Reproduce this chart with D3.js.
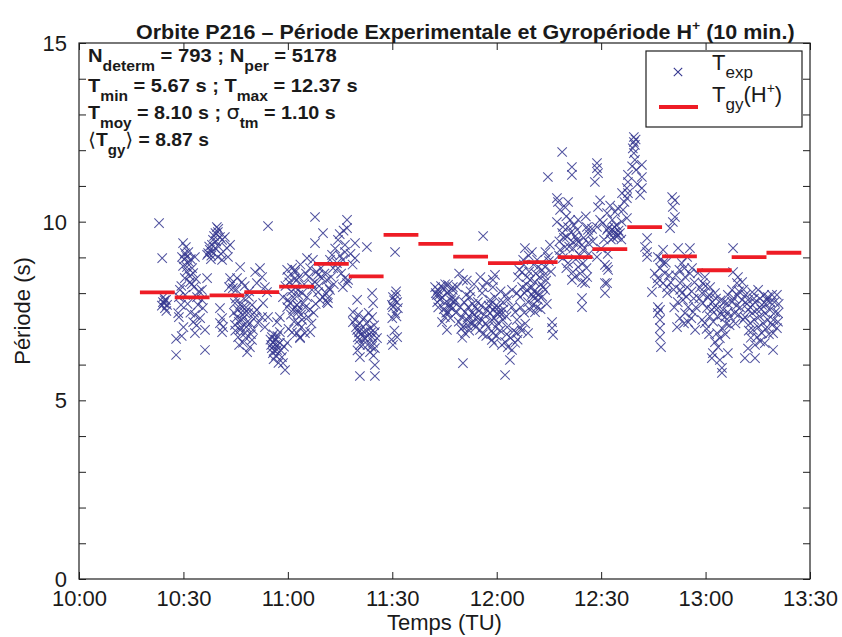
<!DOCTYPE html>
<html><head><meta charset="utf-8">
<script src="https://cdn.jsdelivr.net/npm/d3@7"></script>
<style>
body{margin:0;background:#fff}
text{font-family:"Liberation Sans",Arial,Helvetica,sans-serif;fill:#1a1a1a}
</style>
</head><body>
<svg id="chart" width="842" height="637"></svg>
<script>
// ---------- DATA ----------
// time axis: minutes after 10:00 (TU)
const xTickValues = [0, 30, 60, 90, 120, 150, 180, 210];
const xTickLabels = ["10:00", "10:30", "11:00", "11:30", "12:00", "12:30", "13:00", "13:30"];
const yTickValues = [0,1,2,3,4,5,6,7,8,9,10,11,12,13,14,15];
const yLabelValues = [0, 5, 10, 15];

// 10-minute gyroperiod H+ : start time (min after 10:00) and value (s)
const gyroStart = [17.5, 27.5, 37.5, 47.5, 57.5, 67.5, 77.5, 87.5, 97.5, 107.5, 117.5, 127.5, 137.5, 147.5, 157.5, 167.5, 177.5, 187.5, 197.5];
const gyroPeriod = [8.02, 7.88, 7.94, 8.03, 8.18, 8.82, 8.47, 9.63, 9.38, 9.02, 8.84, 8.87, 9.01, 9.23, 9.85, 9.03, 8.64, 9.01, 9.13];

// experimental periods T_exp : [minutes after 10:00, period (s)]
const texpPoints = [
[23.0,9.96],[23.9,8.98],[24.2,7.89],[25.0,7.81],[24.4,7.72],[25.3,7.67],[24.7,7.58],[24.1,7.75],[24.6,7.80],[25.1,7.50],[23.8,7.65],
[27.9,6.72],[27.9,6.27],[28.5,7.44],[28.7,7.33],[29.3,7.67],[29.0,8.09],[28.7,7.89],
[29.9,9.40],[30.7,9.29],[30.4,9.12],[31.0,9.01],[29.9,8.76],[31.6,8.87],[32.5,8.70],[32.8,8.56],[33.3,9.01],[30.4,8.42],[31.9,8.31],[33.0,8.17],[35.3,8.09],[33.9,7.89],[35.3,7.81],[34.2,7.67],[33.3,7.39],[32.8,7.19],[33.3,6.88],[36.2,6.97],[36.2,6.41],[35.6,7.58],[36.8,8.42],[29.6,9.01],[31.0,8.73],
[30.2,8.95],[30.9,8.60],[31.4,9.15],[32.1,8.95],[31.8,8.48],[32.4,8.25],[33.6,8.40],[34.5,8.05],[29.4,8.20],[30.5,7.95],[31.2,7.70],[32.0,7.45],[34.8,7.30],[33.8,7.10],[30.0,7.05],[29.5,6.80],
[39.6,9.85],[39.9,9.71],[40.5,9.57],[38.5,9.49],[38.2,9.35],[37.6,9.21],[37.1,9.12],[38.2,9.15],[39.1,9.26],[41.1,9.49],[41.9,9.57],[36.8,9.07],[39.9,9.01],[41.1,8.93],[42.8,9.01],[42.5,9.26],[43.4,9.35],
[38.8,9.60],[39.4,9.45],[40.1,9.30],[38.0,9.05],[37.4,9.30],[40.8,9.10],[39.2,9.68],[40.0,9.80],[37.9,8.95],
[40.5,7.58],[41.1,7.30],[40.5,7.16],[41.4,7.05],[41.1,6.91],
[43.4,8.42],[44.0,8.28],[43.1,8.17],[44.2,8.14],
[46.3,8.73],[45.4,8.42],[46.8,8.31],[44.8,7.72],[46.3,7.67],[47.1,7.61],[45.7,7.53],[47.7,7.44],[45.4,7.33],[46.8,7.25],[48.3,7.19],[44.8,7.11],[46.3,6.97],[47.7,6.88],[45.7,6.77],[47.1,6.61],[49.1,6.49],[48.3,6.35],[49.7,6.69],[50.0,6.97],[49.1,7.16],[48.6,7.44],[49.7,7.67],[50.6,7.33],[51.1,7.53],[51.4,7.16],
[44.5,7.45],[45.1,7.85],[45.9,7.20],[46.5,7.05],[47.4,7.85],[48.0,7.60],[48.8,7.90],[47.9,6.75],[46.0,6.55],[46.9,7.40],[48.1,7.05],[49.4,6.85],[50.3,7.45],[44.9,6.95],[45.2,8.10],[47.6,8.20],[48.9,8.05],
[54.3,9.88],
[50.6,8.59],[52.0,8.70],[52.6,8.45],[51.1,8.28],[53.4,8.17],[54.0,8.03],[52.9,7.72],[52.6,7.33],[53.4,7.05],[54.3,7.33],
[55.4,6.77],[55.7,6.63],[56.3,6.55],[55.4,6.46],[56.9,6.41],[55.7,6.32],[57.7,6.61],[58.3,6.21],[58.6,6.04],[59.2,5.85],[57.7,7.33],[56.9,7.19],[59.8,6.61],[57.7,6.91],
[55.0,6.70],[55.9,6.85],[56.5,6.70],[55.2,6.55],[56.1,6.40],[57.1,6.55],[56.6,6.25],[55.9,6.15],[57.3,6.05],[58.0,6.40],[58.9,6.50],[57.0,6.80],
[59.8,8.65],[61.2,8.70],[62.1,8.59],[60.0,8.45],[62.6,8.37],[58.6,7.89],[60.0,7.81],[61.5,7.89],[60.6,7.72],[62.6,7.67],[59.8,7.61],[61.5,7.53],[62.9,7.53],[62.9,7.16],[62.6,6.88],[63.5,6.74],
[60.4,8.30],[61.9,8.40],[61.0,8.05],[62.2,8.15],[63.2,8.45],[59.3,8.20],[60.9,7.40],[61.8,7.20],[60.2,7.00],[61.2,6.90],[63.8,7.40],[63.0,7.95],[64.7,8.25],[65.2,8.55],[63.6,8.80],
[67.8,10.13],[70.1,9.68],[67.8,9.40],[65.5,8.98],[62.1,8.65],[67.2,8.93],[66.4,8.70],[68.7,8.51],[67.8,8.31],[69.8,8.42],[71.2,8.37],[62.9,8.09],[64.1,8.00],[65.5,7.89],[66.9,8.09],[68.7,8.03],[70.1,7.89],[71.5,7.86],[71.2,7.75],[69.2,7.81],[62.6,7.67],[64.4,7.72],[62.9,7.47],[65.8,7.33],[64.1,7.25],[64.9,6.88],[63.5,6.77],[66.4,6.91],
[66.0,8.45],[67.0,8.25],[68.2,8.60],[69.0,8.20],[70.5,8.55],[71.8,8.15],[70.9,8.00],[69.5,8.70],[72.4,8.45],[73.2,8.25],[68.0,7.70],[66.3,7.55],[67.4,7.45],[65.0,7.60],[66.8,7.15],[63.9,7.05],
[72.7,9.07],[72.1,8.93],[74.1,8.84],[74.4,8.70],[73.0,8.70],[74.4,9.49],[76.4,9.35],[77.0,10.05],[77.0,9.82],[76.4,9.15],[75.8,8.93],[79.3,9.40],[82.7,9.29],[79.3,8.98],[76.4,8.42],[77.0,8.28],[75.8,8.17],[77.3,8.37],[72.1,8.09],[71.5,7.72],
[73.6,9.25],[75.0,9.05],[75.3,8.55],[78.0,9.10],[78.6,8.80],[74.9,9.65],[76.0,9.75],
[79.9,7.81],[84.2,8.00],[84.5,7.72],[78.7,7.47],[79.3,7.25],[80.7,7.16],[79.9,6.97],[81.3,6.88],[82.7,7.16],[83.6,7.02],[85.0,6.91],[84.2,6.77],[80.1,6.77],[82.2,6.74],[80.7,6.55],[84.5,6.61],[85.0,6.46],[83.6,6.35],[80.7,6.21],[85.0,5.99],[80.7,5.68],[85.0,5.68],[84.2,7.33],[78.7,7.19],[85.6,6.74],
[79.6,7.05],[80.4,6.90],[81.0,7.00],[81.8,6.75],[82.5,6.95],[83.0,6.80],[83.9,6.90],[84.8,7.10],[80.5,6.70],[81.5,6.55],[82.9,6.55],[84.0,6.50],[80.2,7.40],[81.9,7.30],[83.2,7.45],[80.0,6.40],[84.6,6.25],
[90.8,9.15],[90.2,7.89],[91.4,7.75],[90.2,7.61],[91.6,7.58],[90.8,7.44],[91.4,6.77],[90.2,6.55],[89.9,7.67],
[90.5,7.80],[91.0,7.95],[90.0,7.30],[91.2,7.35],[90.6,6.95],[89.8,6.70],[91.1,8.05],
[102.3,8.17],[103.1,8.09],[104.6,8.14],[106.0,8.23],[107.4,8.17],[102.8,7.95],[104.3,7.89],[105.7,8.00],[107.2,7.89],[105.1,7.72],[106.6,7.67],[107.4,7.58],[106.0,7.47],[105.1,7.33],[104.3,7.19],[105.7,6.97],[103.7,7.81],
[102.5,8.00],[103.5,7.95],[104.0,8.20],[105.2,8.25],[106.3,8.05],[106.9,7.80],[104.8,7.55],[103.2,7.60],[102.9,7.75],[107.8,7.75],[105.5,7.45],[106.7,7.30],
[116.1,9.60],[110.3,6.04],[122.4,5.71],
[107.4,8.09],[108.6,8.17],[110.3,8.37],[106.6,7.61],[108.0,7.81],[109.5,7.61],[110.9,7.47],[110.0,7.33],[111.5,7.25],[110.3,7.05],[110.9,6.88],[111.8,7.61],[112.3,7.89],
[112.9,7.44],[113.8,7.61],[114.6,7.75],[115.8,8.00],[116.1,8.17],[114.3,7.33],[115.8,7.25],[113.2,7.16],[115.2,6.97],[117.2,7.53],[118.1,7.44],[118.9,7.53],[120.1,7.44],[120.9,7.47],[118.6,7.25],[117.5,7.05],[118.9,6.88],[118.6,6.69],[120.4,7.16],[121.8,7.25],[123.0,7.05],[122.4,6.63],[123.2,6.49],[124.4,6.41],[123.8,6.13],[125.3,6.61],[125.8,6.88],[126.7,7.05],[129.0,6.88],[118.1,7.81],[119.5,7.89],[118.9,8.37],[119.5,8.51],[118.9,8.17],[121.8,7.75],[123.2,7.81],[124.4,7.61],[125.3,7.47],[125.8,7.25],[124.4,8.09],[125.8,8.00],[126.7,7.89],[127.3,8.17],[126.1,8.45],[128.1,9.26],[127.6,8.93],[127.3,8.59],[128.7,8.45],[129.6,8.37],[131.0,8.31],[130.1,8.17],[128.7,8.09],[130.1,7.95],[129.0,7.75],[130.4,7.67],[129.6,7.53],[131.0,7.47],[131.6,8.93],[131.9,8.73],[133.0,8.65],[133.3,8.17],[133.9,8.09],[131.9,7.81],[131.6,7.61],[133.9,8.73],[134.7,9.01],[135.3,9.35],[135.9,7.19],[135.9,7.02],[136.2,6.83],
[108.3,7.45],[109.1,7.20],[109.8,7.00],[110.6,7.75],[111.2,7.95],[112.0,7.35],[112.6,7.15],[113.5,7.40],[114.0,7.05],[114.9,7.50],[115.5,7.65],[116.4,7.40],[116.8,7.15],[117.7,7.65],[118.4,7.70],[119.3,7.30],[119.8,7.65],[120.5,7.60],[121.3,7.40],[122.0,7.55],[122.8,7.35],[113.1,7.70],[111.6,7.10],[110.1,6.75],[112.1,6.95],[114.7,7.20],[116.0,6.85],[117.0,6.80],[119.7,7.05],[121.0,6.95],[120.0,6.80],[119.2,6.60],[121.5,6.55],[122.9,6.85],[124.0,6.75],[124.9,6.95],[126.0,6.70],[127.2,6.95],[128.2,7.15],[127.9,7.45],[126.9,7.60],[122.6,7.95],[121.1,8.05],[117.0,8.30],[115.3,8.45],[113.5,8.25],[112.5,8.05],[111.4,8.35],[109.2,8.55],
[126.5,8.65],[127.8,8.80],[128.5,8.25],[129.3,8.60],[130.6,8.80],[131.2,8.55],[130.7,8.05],[131.4,8.00],[132.3,8.45],[132.7,8.25],[133.6,8.50],[134.2,8.35],[132.0,7.95],[133.1,7.90],[134.4,7.70],[132.6,7.55],[130.9,7.85],[128.0,8.00],[129.2,9.05],[130.1,9.15],[134.0,9.15],[135.0,8.90],[135.6,8.60],
[138.8,11.95],[134.7,11.25],[141.6,11.53],[141.6,11.31],[137.3,10.66],[137.6,10.55],[138.2,10.33],[140.5,10.55],[137.3,9.99],[139.0,9.85],[140.5,9.85],[138.8,9.68],[140.2,9.57],[141.9,9.43],[139.6,9.29],[138.2,9.21],[143.4,10.05],[143.1,9.77],[143.4,9.43],[144.5,9.35],[144.8,9.21],[145.9,9.85],[146.2,9.77],[146.8,9.63],[139.0,8.98],[140.5,8.84],[141.9,8.59],[142.5,8.45],[143.4,8.73],[144.8,8.84],[144.5,8.31],[145.4,8.28],[144.5,7.86],[144.5,7.61],[141.6,8.37],[143.1,9.49],[141.1,10.05],
[138.0,9.45],[139.3,9.55],[140.8,9.30],[141.3,9.70],[142.2,9.90],[142.6,9.60],[140.0,10.15],[139.7,10.40],[142.0,9.25],[143.9,9.05],[145.0,9.55],[146.3,9.40],[147.4,9.80],[145.6,10.15],[137.9,9.05],[140.0,8.70],[142.7,8.95],[144.0,8.55],[145.8,8.70],[146.5,9.10],[147.6,9.45],[146.0,8.45],
[148.8,11.64],[149.1,11.36],[148.2,11.11],[148.8,11.50],[149.7,10.60],[149.1,10.41],[149.7,10.05],[150.5,9.96],[148.8,9.85],[151.7,9.77],[151.1,8.79],[151.7,8.73],[151.1,8.28],[151.1,8.00],[148.8,9.01],
[152.5,9.65],[153.5,9.55],[153.8,9.85],[154.4,9.90],[155.0,9.75],[155.8,9.50],[153.2,10.05],[152.8,9.50],[155.9,10.00],[156.7,10.55],[156.0,10.80],[150.8,9.50],[150.0,9.25],[151.9,9.10],[152.6,10.45],
[159.4,12.37],[159.4,12.23],[159.7,12.15],[159.4,11.92],[159.7,11.73],[161.7,11.59],[161.7,11.25],[161.7,10.94],[157.7,11.31],[157.7,11.11],[157.4,10.94],[157.7,10.80],[157.4,10.66],[154.8,10.38],[156.3,10.33],[157.4,10.10],[154.0,10.27],[154.0,9.71],[154.8,9.63],[154.5,9.57],[153.1,9.77],[152.0,9.82],[155.4,9.68],[151.7,10.24],[152.0,8.65],[151.7,8.28],
[160.1,11.45],[160.4,11.05],[161.2,10.75],[158.9,11.55],[159.9,12.30],[159.1,12.05],
[163.2,9.54],[163.2,9.15],[163.2,9.01],[162.6,9.29],
[170.4,10.69],[171.2,10.60],[170.6,10.41],[171.2,10.13],[170.6,9.99],[169.8,9.82],
[167.8,9.21],[166.3,9.01],[167.8,8.84],[166.9,8.70],[168.3,8.56],[166.3,8.42],[167.8,8.28],[168.9,8.17],[164.6,8.03],[166.0,8.28],
[166.3,7.61],[166.9,7.53],[166.3,7.44],[166.9,7.25],[166.9,7.02],[166.9,6.77],[167.2,6.49],
[172.1,9.26],[175.5,9.26],[173.2,8.84],[174.7,9.01],[176.1,8.70],[174.1,8.45],[172.7,8.28],[173.2,8.00],[174.7,8.17],
[173.5,7.81],[175.0,7.61],[176.4,7.47],[175.0,7.19],[177.0,6.97],[174.1,7.44],[172.7,8.09],
[165.4,8.55],[167.2,8.95],[168.6,8.85],[169.5,8.50],[170.0,8.30],[169.0,8.00],[170.8,8.10],[171.5,8.50],[172.5,8.65],[173.9,8.70],[175.5,8.55],[176.8,8.30],[176.0,8.05],[174.5,7.90],[172.0,7.75],[171.0,7.60],[172.6,7.30],[173.8,7.15],[175.9,7.30],[177.2,7.60],[176.6,7.85],[171.8,7.05],
[177.8,8.56],[179.8,8.45],[179.2,8.28],[181.3,8.17],[179.0,8.00],[180.7,7.89],[182.7,8.00],[179.2,7.72],[180.4,7.58],[181.8,7.53],[183.6,7.58],[179.8,7.16],[179.0,7.25],
[178.4,8.15],[178.2,7.85],[180.0,8.20],[181.0,7.95],[181.9,7.75],[182.5,7.60],[183.0,7.85],[184.3,7.80],[185.4,7.75],[184.6,7.40],[183.4,7.35],[182.2,7.20],[181.2,7.35],[180.3,7.00],[181.0,6.85],[185.9,7.15],[184.9,7.00],[185.7,6.85],[186.9,7.10],[187.0,7.35],[188.6,7.15],[189.5,7.40],[189.9,7.60],[188.9,7.65],[188.2,7.85],[189.6,8.05],[190.9,8.10],[191.5,7.95],[191.9,7.70],
[183.3,6.88],[184.1,6.74],[182.7,6.63],[183.6,6.49],[182.1,6.32],[181.8,6.18],[184.1,6.13],[186.4,6.32],[184.7,5.91],[184.7,5.77],
[187.9,9.26],[187.9,8.59],[189.3,8.45],[189.0,8.28],[190.5,8.31],[187.6,8.09],[189.0,7.95],[186.4,7.95],[186.2,7.72],[187.6,7.75],[185.0,7.53],[186.4,7.47],[185.6,7.33],[188.4,7.44],[190.5,7.81],[191.3,7.33],[190.8,7.25],[192.2,7.53],
[193.4,8.03],[195.1,8.09],[192.2,7.81],[194.2,7.75],[196.2,7.67],[197.9,7.89],[199.1,7.95],[200.5,7.95],[193.4,7.44],[194.8,7.53],[197.1,7.44],[198.5,7.53],[200.0,7.47],[200.8,7.44],[192.8,7.16],[193.6,6.97],[195.1,7.05],[196.5,7.16],[197.9,7.25],[199.1,7.11],[200.5,7.02],[199.4,6.88],[196.2,6.88],[194.8,6.77],[194.2,6.55],[199.4,6.41],[191.3,6.18],[194.2,6.18],[197.6,7.81],
[192.9,7.60],[193.9,7.85],[195.6,7.85],[196.8,7.95],[197.3,7.70],[198.6,7.75],[199.8,7.75],[201.0,7.70],[195.5,7.35],[196.0,7.55],[199.5,7.25],[200.8,7.20],[194.0,7.25],[197.2,7.00],[198.2,6.85],[192.4,6.95],[193.0,6.75],[195.7,6.65],[197.0,6.60],[192.2,6.45]
];

const titleText = "Orbite P216 – Période Experimentale et Gyropériode H";
const xAxisLabel = "Temps (TU)";
const yAxisLabel = "Période (s)";

// ---------- LAYOUT ----------
const svg = d3.select("#chart");
const plot = {left: 79, right: 810, top: 43, bottom: 579};
const x = d3.scaleLinear().domain([0, 210]).range([plot.left, plot.right]);
const y = d3.scaleLinear().domain([0, 15]).range([plot.bottom, plot.top]);
const ink = "#1f1f1f";
const tickLen = 7;

// helper: scale a text group horizontally so it spans [x0, x0+w]
function fitX(sel, x0, w) {
  const bb = sel.node().getBBox();
  const s = w / bb.width;
  sel.attr("transform", `translate(${x0},0) scale(${s},1) translate(${-bb.x},0)`);
}

// scatter of T_exp
const cross = "M-4.7,-4.7L4.7,4.7M-4.7,4.7L4.7,-4.7";
svg.append("g").selectAll("path").data(texpPoints).join("path")
  .attr("d", cross)
  .attr("transform", d => `translate(${x(d[0])},${y(d[1])})`)
  .attr("fill", "none").attr("stroke", "#34368f").attr("stroke-width", 1.05).attr("stroke-opacity", 0.85);

// gyroperiod segments
svg.append("g").selectAll("line").data(gyroStart).join("line")
  .attr("x1", d => x(d)).attr("x2", d => x(d + 10))
  .attr("y1", (d, i) => y(gyroPeriod[i])).attr("y2", (d, i) => y(gyroPeriod[i]))
  .attr("stroke", "#ee1c25").attr("stroke-width", 3.8);

// axes (ticks inside, on all four sides)
const axB = d3.axisBottom(x).tickValues(xTickValues).tickSize(-tickLen).tickFormat((d, i) => xTickLabels[i]);
const axT = d3.axisTop(x).tickValues(xTickValues).tickSize(-tickLen).tickFormat("");
const axL = d3.axisLeft(y).tickValues(yTickValues).tickSize(-tickLen).tickFormat(d => yLabelValues.includes(d) ? d : "");
const axR = d3.axisRight(y).tickValues(yTickValues).tickSize(-tickLen).tickFormat("");

function styleAxis(g) {
  g.select(".domain").remove();
  g.selectAll("line").attr("stroke", ink).attr("stroke-width", 1);
  g.selectAll("text").attr("font-size", 22).attr("fill", ink).attr("font-family", '"Liberation Sans",Arial,sans-serif');
}
svg.append("g").attr("transform", `translate(0,${plot.bottom})`).call(axB).call(styleAxis)
  .selectAll("text").attr("dy", "0.72em").attr("y", 11);
svg.append("g").attr("transform", `translate(0,${plot.top})`).call(axT).call(styleAxis);
svg.append("g").attr("transform", `translate(${plot.left},0)`).call(axL).call(styleAxis)
  .selectAll("text").attr("x", -12).attr("dy", "0.34em");
svg.append("g").attr("transform", `translate(${plot.right},0)`).call(axR).call(styleAxis);

// frame
svg.append("rect").attr("x", plot.left).attr("y", plot.top)
  .attr("width", plot.right - plot.left).attr("height", plot.bottom - plot.top)
  .attr("fill", "none").attr("stroke", ink).attr("stroke-width", 1.2);

// axis titles
svg.append("text").attr("x", (plot.left + plot.right) / 2).attr("y", 630)
  .attr("text-anchor", "middle").attr("font-size", 22).text(xAxisLabel);
svg.append("text").attr("transform", `translate(30,${(plot.top + plot.bottom) / 2}) rotate(-90)`)
  .attr("text-anchor", "middle").attr("font-size", 22).text(yAxisLabel);

// title
const title = svg.append("text").attr("x", 0).attr("y", 39).attr("font-size", 20).attr("font-weight", "bold");
title.append("tspan").text(titleText);
title.append("tspan").attr("font-size", 13).attr("dy", -9).text("+");
title.append("tspan").attr("dy", 9).text(" (10 min.)");
fitX(title, 136, 659);

// annotation block
const notes = [
  {y: 62.3, w: 249, parts: [["N"], ["determ", "sub"], [" = 793 ;  N"], ["per", "sub"], [" = 5178"]]},
  {y: 92.3, w: 270, parts: [["T"], ["min", "sub"], [" = 5.67 s ;  T"], ["max", "sub"], [" = 12.37 s"]]},
  {y: 119.3, w: 248, parts: [["T"], ["moy", "sub"], [" = 8.10 s ; "], ["σ", "sym"], ["tm", "sub"], [" = 1.10 s"]]},
  {y: 146, w: 121, parts: [["⟨", "br"], ["T"], ["gy", "sub"], ["⟩", "br"], [" = 8.87 s"]]}
];
notes.forEach(n => {
  const t = svg.append("text").attr("x", 0).attr("y", n.y).attr("font-size", 18).attr("font-weight", "bold");
  let down = false;
  n.parts.forEach(p => {
    const ts = t.append("tspan").text(p[0]);
    if (p[1] === "sub") { ts.attr("font-size", 14).attr("dy", 9); down = true; }
    else {
      if (down) { ts.attr("dy", -9); down = false; }
      if (p[1] === "sym" || p[1] === "br") ts.attr("font-weight", "normal").attr("font-family", '"DejaVu Sans",sans-serif').attr("font-size", 19);
    }
  });
  fitX(t, 88, n.w);
});

// legend
const lg = svg.append("g");
lg.append("rect").attr("x", 646).attr("y", 51).attr("width", 156).attr("height", 76)
  .attr("fill", "#fff").attr("stroke", ink).attr("stroke-width", 1.2);
lg.append("path").attr("d", "M-4.2,-4.2L4.2,4.2M-4.2,4.2L4.2,-4.2").attr("transform", "translate(678,72)")
  .attr("fill", "none").attr("stroke", "#34368f").attr("stroke-width", 1.1);
lg.append("line").attr("x1", 659).attr("x2", 698).attr("y1", 107).attr("y2", 107)
  .attr("stroke", "#ee1c25").attr("stroke-width", 3.8);
const l1 = lg.append("text").attr("x", 712).attr("y", 69.5).attr("font-size", 22);
l1.append("tspan").text("T");
l1.append("tspan").attr("font-size", 17).attr("dy", 8.5).text("exp");
const l2 = lg.append("text").attr("x", 712).attr("y", 101.5).attr("font-size", 22);
l2.append("tspan").text("T");
l2.append("tspan").attr("font-size", 17).attr("dy", 8.5).text("gy");
l2.append("tspan").attr("dy", -8.5).text("(H");
l2.append("tspan").attr("font-size", 14).attr("dy", -9).text("+");
l2.append("tspan").attr("dy", 9).text(")");
</script>
</body></html>
